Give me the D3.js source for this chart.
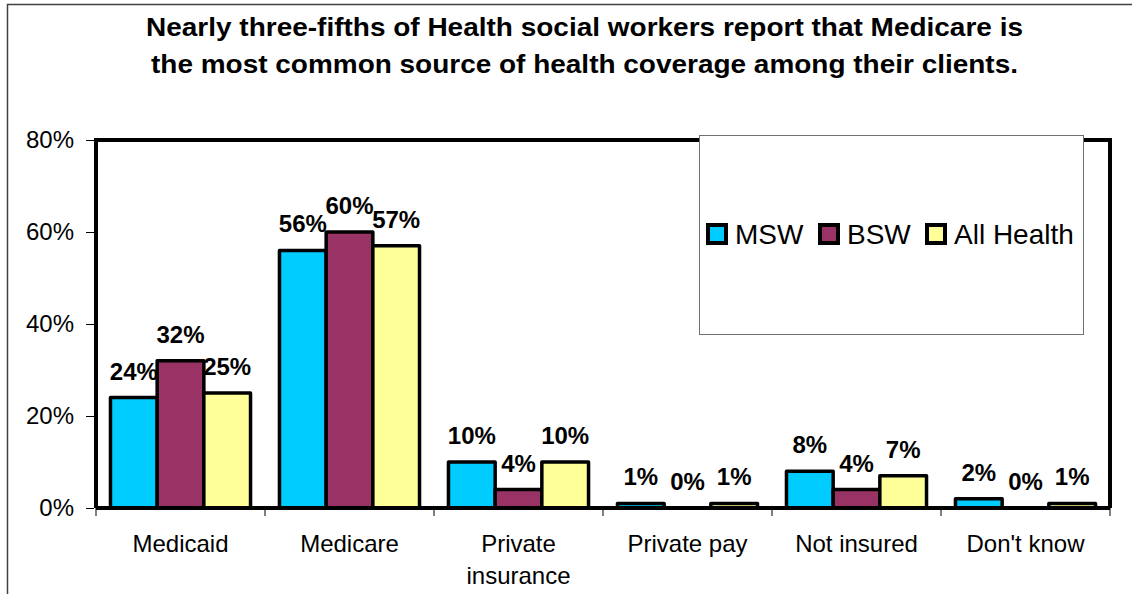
<!DOCTYPE html>
<html>
<head>
<meta charset="utf-8">
<script src="https://cdn.jsdelivr.net/npm/d3@7"></script>
<style>
  html, body { margin: 0; padding: 0; background: #fff; }
  svg { display: block; font-family: "Liberation Sans", Arial, sans-serif; }
</style>
</head>
<body>
<svg id="chart" width="1132" height="594"></svg>
<script>
// Survey data: share of clients by main source of health coverage
const categories = [["Medicaid"], ["Medicare"], ["Private", "insurance"], ["Private pay"], ["Not insured"], ["Don't know"]];
const seriesNames = ["MSW", "BSW", "All Health"];
const msw = [24, 56, 10, 1, 8, 2];
const bsw = [32, 60, 4, 0, 4, 0];
const allHealth = [25, 57, 10, 1, 7, 1];
const yTicks = [0, 20, 40, 60, 80];
const colors = ["#00CCFF", "#993366", "#FFFF99"];

const series = [msw, bsw, allHealth];
const titleLines = [
  "Nearly three-fifths of Health social workers report that Medicare is",
  "the most common source of health coverage among their clients."
];
const titleWidths = [877, 867];

const svg = d3.select("#chart");
const plot = { left: 96, top: 140, right: 1110, bottom: 508 };

// Outer chart border (top and left edges)
svg.append("path")
  .attr("d", "M7.5,594 L7.5,4.5 L1132,4.5")
  .attr("fill", "none").attr("stroke", "#404040").attr("stroke-width", 1.5);

// Title (wide bold face)
svg.append("g").selectAll("text").data(titleLines).join("text")
  .attr("x", 584.5).attr("y", (d, i) => 36 + i * 37)
  .attr("text-anchor", "middle")
  .attr("font-size", 25).attr("font-weight", "bold")
  .attr("textLength", (d, i) => titleWidths[i])
  .attr("lengthAdjust", "spacingAndGlyphs")
  .text(d => d);

const x0 = d3.scaleBand().domain(d3.range(categories.length))
  .range([plot.left, plot.right]).paddingInner(0).paddingOuter(0);
const x1 = d3.scaleBand().domain(d3.range(series.length))
  .range([0, x0.bandwidth()]).paddingOuter(0.31).paddingInner(0);
const y = d3.scaleLinear().domain([0, 80]).range([plot.bottom, plot.top]);

// Plot frame (left, top, right)
svg.append("path")
  .attr("d", `M${plot.left},${plot.bottom} L${plot.left},${plot.top} L${plot.right},${plot.top} L${plot.right},${plot.bottom}`)
  .attr("fill", "none").attr("stroke", "#000").attr("stroke-width", 4);

// Y axis
const yAxis = d3.axisLeft(y).tickValues(yTicks).tickFormat(d => d + "%").tickSize(8).tickPadding(12);
const gy = svg.append("g").attr("transform", `translate(${plot.left - 2},0)`).call(yAxis);
gy.select(".domain").remove();
gy.selectAll(".tick line").attr("stroke", "#000");
gy.selectAll(".tick text").attr("font-size", 24).attr("fill", "#000")
  .attr("font-family", "'Liberation Sans', Arial, sans-serif");

// Category boundary ticks below the axis
const bounds = d3.range(categories.length + 1).map(i => plot.left + i * x0.step());
svg.append("g").selectAll("line").data(bounds).join("line")
  .attr("x1", d => d).attr("x2", d => d)
  .attr("y1", plot.bottom).attr("y2", plot.bottom + 8)
  .attr("stroke", "#000").attr("stroke-width", 1);

// Bars
const groups = svg.append("g").selectAll("g").data(categories).join("g")
  .attr("transform", (d, i) => `translate(${x0(i)},0)`);

groups.each(function (c, ci) {
  const g = d3.select(this);
  series.forEach((s, si) => {
    const v = s[ci];
    g.append("rect")
      .attr("x", x1(si)).attr("width", x1.bandwidth())
      .attr("y", y(v)).attr("height", y(0) - y(v))
      .attr("fill", colors[si]).attr("stroke", "#000").attr("stroke-width", 3.5)
      .attr("stroke-linejoin", "round");
  });
  series.forEach((s, si) => {
    const v = s[ci];
    g.append("text")
      .attr("x", x1(si) + x1.bandwidth() / 2)
      .attr("y", y(v) - 18)
      .attr("text-anchor", "middle")
      .attr("font-size", 24).attr("font-weight", "bold")
      .text(v + "%");
  });
});

// Axis baseline
svg.append("line")
  .attr("x1", plot.left).attr("x2", plot.right)
  .attr("y1", plot.bottom).attr("y2", plot.bottom)
  .attr("stroke", "#000").attr("stroke-width", 4);

// Category labels
svg.append("g").selectAll("text").data(categories).join("text")
  .attr("x", (d, i) => x0(i) + x0.bandwidth() / 2)
  .attr("y", 552)
  .attr("text-anchor", "middle")
  .attr("font-size", 24)
  .each(function (lines) {
    d3.select(this).selectAll("tspan").data(lines).join("tspan")
      .attr("x", d3.select(this).attr("x"))
      .attr("dy", (d, i) => i === 0 ? 0 : 31.5)
      .text(d => d);
  });

// Legend
const legend = svg.append("g");
legend.append("rect")
  .attr("x", 699.5).attr("y", 135.5).attr("width", 384).attr("height", 199)
  .attr("fill", "#fff").attr("stroke", "#707070").attr("stroke-width", 1);
const legendX = [706, 818, 925];
seriesNames.forEach((name, i) => {
  legend.append("rect")
    .attr("x", legendX[i] + 2).attr("y", 225).attr("width", 18).attr("height", 18)
    .attr("fill", colors[i]).attr("stroke", "#000").attr("stroke-width", 4);
  legend.append("text")
    .attr("x", legendX[i] + 29).attr("y", 244)
    .attr("font-size", 28)
    .text(name);
});
</script>
</body>
</html>
